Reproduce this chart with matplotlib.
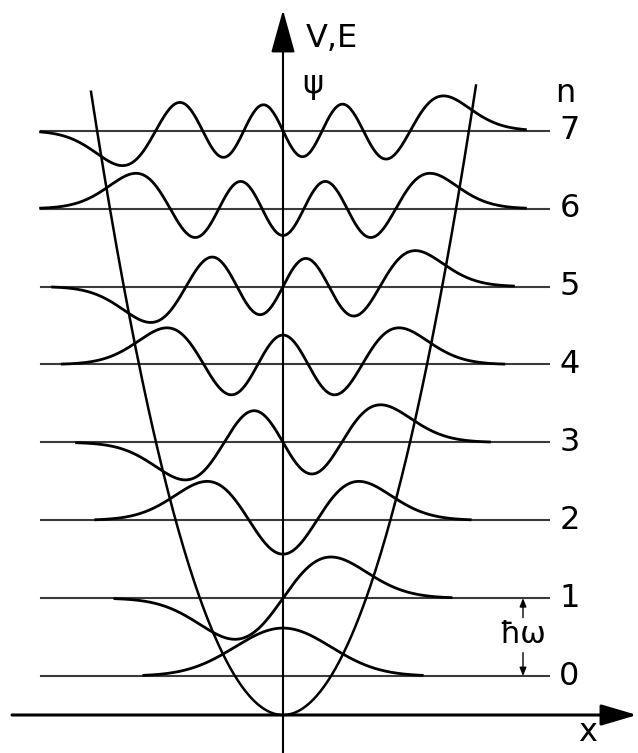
import numpy as np
import matplotlib.pyplot as plt
from numpy.polynomial import hermite
from math import factorial

# quantum numbers, energies (units of hbar*omega) and how far each psi is drawn
n_levels = [0, 1, 2, 3, 4, 5, 6, 7]
energies = [0.5, 1.5, 2.5, 3.5, 4.5, 5.5, 6.5, 7.5]
psi_extent = [2.9, 3.5, 3.9, 4.3, 4.6, 4.8, 5.05, 5.05]
level_labels = ['0', '1', '2', '3', '4', '5', '6', '7']

psi_scale = 0.82      # psi amplitude drawn in units of hbar*omega
line_x = (-5.05, 5.55)
pot_x = (-4.0, 4.02)

font = ['Liberation Sans Narrow', 'DejaVu Sans']

def psi(n, x):
    c = np.zeros(n + 1)
    c[n] = 1.0
    norm = 1.0 / np.sqrt(2.0**n * factorial(n) * np.sqrt(np.pi))
    return norm * hermite.hermval(x, c) * np.exp(-x**2 / 2)

# pixel layout of the original: axis at x=283 px, 48 px per unit x, 77.9 px per hbar*omega
px_x, px_e, x0, y0 = 48.0, 77.9, 283.0, 715.0
W, H = 638, 753

fig = plt.figure(figsize=(W / 100, H / 100), dpi=100)
ax = fig.add_axes([0, 0, 1, 1])
ax.set_xlim(-x0 / px_x, (W - x0) / px_x)
ax.set_ylim((y0 - H) / px_e, y0 / px_e)
ax.axis('off')

# energy levels
for n, e in zip(n_levels, energies):
    ax.plot(line_x, [e, e], color='#3a3a3a', lw=1.5, zorder=1)
    xs = np.linspace(-psi_extent[n], psi_extent[n], 400)
    ax.plot(xs, e + psi_scale * psi(n, xs), color='k', lw=2.0, zorder=3)
    ax.text(5.97, e, level_labels[n], fontsize=23, family=font,
            ha='center', va='center')

ax.text(5.87, 7.98, 'n', fontsize=23, family=font, ha='center', va='center')

# potential
xp = np.linspace(pot_x[0], pot_x[1], 300)
ax.plot(xp, 0.5 * xp**2, color='k', lw=1.8, zorder=2)

# axes with arrows
ax.annotate('', xy=(0, 9.05), xytext=(0, (y0 - H) / px_e),
            arrowprops=dict(arrowstyle='-|>,head_length=2.7,head_width=0.75',
                            mutation_scale=10, color='k', lw=1.5, shrinkA=0, shrinkB=0))
ax.annotate('', xy=((W - 1 - x0) / px_x, 0), xytext=((12 - x0) / px_x, 0),
            arrowprops=dict(arrowstyle='-|>,head_length=2.2,head_width=0.65',
                            mutation_scale=10, color='k', lw=2.2, shrinkA=0, shrinkB=0))

ax.text(0.47, 8.69, 'V,E', fontsize=23, family=font, ha='left', va='center')
ax.text(0.4, 8.1, 'ψ', fontsize=23, family=font, ha='left', va='center')
ax.text(6.35, -0.23, 'x', fontsize=23, family=font, ha='center', va='center')

# hbar*omega spacing marker
xm = (523 - x0) / px_x
ax.annotate('', xy=(xm, energies[1]), xytext=(xm, 1.25),
            arrowprops=dict(arrowstyle='-|>,head_length=0.5,head_width=0.2',
                            mutation_scale=10, color='k', lw=1, shrinkA=0, shrinkB=0))
ax.annotate('', xy=(xm, energies[0]), xytext=(xm, 0.8),
            arrowprops=dict(arrowstyle='-|>,head_length=0.5,head_width=0.2',
                            mutation_scale=10, color='k', lw=1, shrinkA=0, shrinkB=0))
ax.text(xm, 1.03, 'ħω', fontsize=22, family=font, ha='center', va='center')

fig.savefig('out.png', dpi=100)
